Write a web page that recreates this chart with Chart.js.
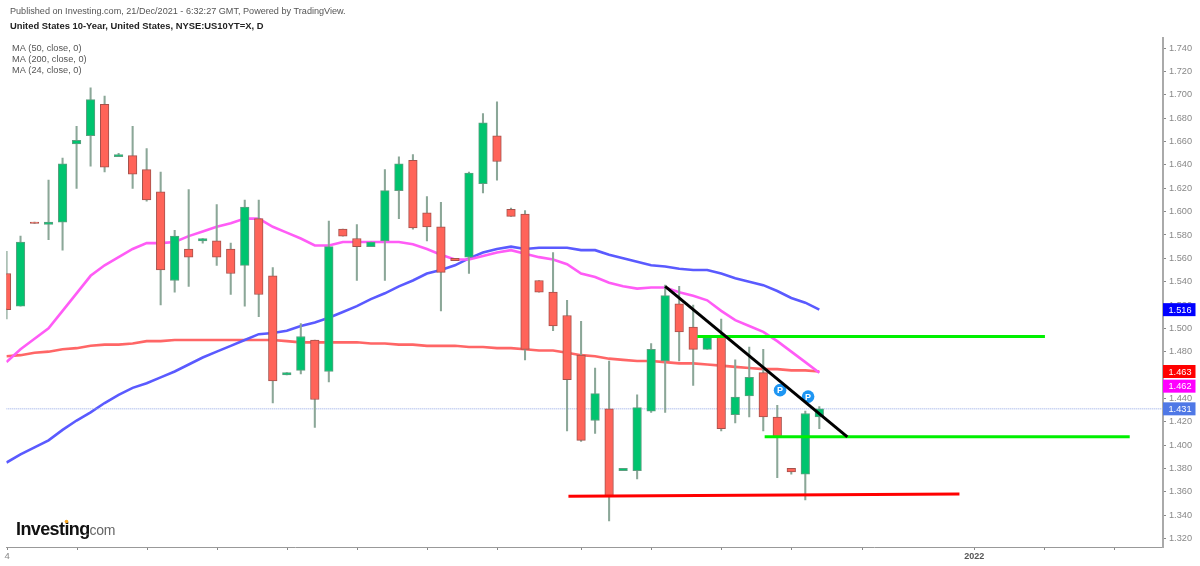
<!DOCTYPE html>
<html>
<head>
<meta charset="utf-8">
<title>United States 10-Year</title>
<script src="https://cdn.jsdelivr.net/npm/chart.js@4"></script>
<style>html,body{margin:0;padding:0;background:#fff}canvas{display:block}</style>
</head>
<body>
<canvas id="c" width="1200" height="566"></canvas>
<script>
const publishedLine = "Published on Investing.com, 21/Dec/2021 - 6:32:27 GMT, Powered by TradingView.";
const titleLine = "United States 10-Year, United States, NYSE:US10YT=X, D";
const maNames = ["MA (50, close, 0)", "MA (200, close, 0)", "MA (24, close, 0)"];

const opens  = [1.547,1.519,1.591,1.589,1.591,1.658,1.665,1.692,1.647,1.648,1.636,1.617,1.541,1.568,1.575,1.575,1.568,1.554,1.594,1.545,1.460,1.464,1.490,1.463,1.585,1.577,1.570,1.575,1.618,1.644,1.599,1.587,1.560,1.561,1.624,1.665,1.602,1.598,1.541,1.531,1.511,1.477,1.421,1.431,1.378,1.378,1.429,1.472,1.521,1.501,1.482,1.494,1.426,1.442,1.462,1.424,1.380,1.375,1.424];
const highs  = [1.566,1.579,1.591,1.627,1.646,1.673,1.706,1.699,1.650,1.673,1.654,1.634,1.584,1.619,1.577,1.606,1.573,1.610,1.610,1.552,1.462,1.504,1.490,1.592,1.585,1.589,1.574,1.636,1.647,1.649,1.613,1.608,1.560,1.634,1.684,1.694,1.603,1.601,1.541,1.565,1.524,1.506,1.466,1.472,1.380,1.443,1.487,1.537,1.536,1.520,1.492,1.508,1.473,1.484,1.482,1.434,1.380,1.429,1.433];
const lows   = [1.508,1.519,1.590,1.576,1.567,1.620,1.639,1.634,1.647,1.620,1.609,1.520,1.531,1.536,1.573,1.554,1.529,1.519,1.510,1.436,1.460,1.461,1.415,1.454,1.579,1.541,1.570,1.541,1.594,1.585,1.575,1.515,1.558,1.547,1.616,1.627,1.596,1.473,1.531,1.498,1.412,1.403,1.410,1.335,1.378,1.371,1.428,1.428,1.472,1.451,1.482,1.412,1.419,1.424,1.412,1.372,1.375,1.353,1.414];
const closes = [1.516,1.574,1.590,1.591,1.641,1.661,1.696,1.638,1.649,1.632,1.610,1.550,1.579,1.561,1.577,1.561,1.547,1.604,1.529,1.455,1.462,1.493,1.439,1.570,1.579,1.570,1.574,1.618,1.641,1.586,1.587,1.548,1.558,1.633,1.676,1.643,1.596,1.482,1.531,1.502,1.456,1.404,1.444,1.356,1.380,1.432,1.482,1.528,1.497,1.482,1.492,1.414,1.441,1.458,1.424,1.407,1.377,1.427,1.431];

const ma50  = [1.385,1.392,1.398,1.404,1.413,1.421,1.428,1.436,1.443,1.449,1.453,1.458,1.463,1.469,1.475,1.480,1.485,1.490,1.495,1.496,1.498,1.502,1.505,1.509,1.514,1.519,1.525,1.530,1.536,1.541,1.547,1.550,1.554,1.560,1.565,1.568,1.570,1.568,1.569,1.569,1.569,1.567,1.567,1.563,1.560,1.557,1.554,1.553,1.551,1.550,1.550,1.547,1.543,1.540,1.537,1.532,1.526,1.522,1.516];
const ma200 = [1.476,1.477,1.479,1.480,1.482,1.483,1.485,1.486,1.486,1.487,1.489,1.489,1.490,1.490,1.490,1.490,1.490,1.490,1.490,1.490,1.489,1.488,1.488,1.488,1.488,1.488,1.487,1.487,1.486,1.486,1.485,1.485,1.485,1.484,1.484,1.483,1.483,1.482,1.481,1.481,1.479,1.477,1.476,1.474,1.473,1.472,1.472,1.471,1.470,1.470,1.469,1.468,1.467,1.466,1.465,1.465,1.464,1.464,1.463];
const ma24  = [1.471,1.482,1.491,1.500,1.515,1.530,1.545,1.554,1.561,1.568,1.573,1.573,1.574,1.579,1.583,1.587,1.590,1.594,1.594,1.587,1.582,1.577,1.571,1.571,1.574,1.574,1.574,1.574,1.574,1.572,1.568,1.563,1.559,1.559,1.562,1.565,1.567,1.564,1.561,1.559,1.555,1.547,1.544,1.539,1.536,1.534,1.535,1.535,1.531,1.528,1.524,1.515,1.507,1.502,1.497,1.489,1.480,1.471,1.462];

const yTicks = [1.74,1.72,1.70,1.68,1.66,1.64,1.62,1.60,1.58,1.56,1.54,1.52,1.50,1.48,1.46,1.44,1.42,1.40,1.38,1.36,1.34,1.32];
const xTicks = [0,5,10,15,20,25,30,35,41,46,51,56,61,69,74,79];
const xTickNames = {0:"4",69:"2022"};

const blackLineX = [47,60],      blackLineY = [1.536,1.407];
const greenHighX = [49.3,74.1],  greenHighY = [1.493,1.493];
const greenLowX  = [54.1,80.15], greenLowY  = [1.407,1.407];
const redLineX   = [40.1,68],    redLineY   = [1.356,1.358];
const lastPrice  = 1.431;
const noteX = [55.2,57.2], noteY = [1.447,1.4415];

const tagValues = [1.516,1.463,1.462,1.431];
const tagColors = ["#0000ff","#ff0000","#ff00ff","#4f78e6"];
const tagOffsets = [0,0,13.5,0];

const GREEN="#00c46f", RED="#ff6459", GREEN_B="#5d9f80", RED_B="#a5524c", WICK="#8ba798";
const idx = opens.map((_,i)=>i);
const pts = (xs,ys)=>xs.map((x,i)=>({x,y:ys[i]}));
const ser = (vals,color,w)=>({type:"line",data:vals.map((y,i)=>({x:i,y})),borderColor:color,borderWidth:w,pointRadius:0,tension:0,order:4,fill:false});
const seg = (xs,ys,color)=>({type:"line",data:pts(xs,ys),borderColor:color,borderWidth:3,pointRadius:0,tension:0,order:0,fill:false});

const xMin=-0.015, xMax=82.525;

const overlay = {
  id:"overlay",
  afterDatasetsDraw(chart){
    const c=chart.ctx, y=chart.scales.y, x=chart.scales.x;
    c.save();
    c.textBaseline="middle"; c.textAlign="center"; c.fillStyle="#fff"; c.font="bold 9px 'Liberation Sans'";
    noteX.forEach((v,i)=>c.fillText("P",x.getPixelForValue(v),y.getPixelForValue(noteY[i])+0.5));
    c.restore();
  },
  afterDraw(chart){
    const c=chart.ctx, y=chart.scales.y, a=chart.chartArea;
    c.save();
    c.textBaseline="middle"; c.textAlign="left";
    c.font="9.1px 'Liberation Sans'"; c.fillStyle="#555";
    c.fillText(publishedLine,10,11.5);
    c.font="bold 9.4px 'Liberation Sans'"; c.fillStyle="#222";
    c.fillText(titleLine,10,26.5);
    c.font="9.2px 'Liberation Sans'"; c.fillStyle="#555";
    maNames.forEach((t,i)=>c.fillText(t,12,48+i*11));
    tagValues.forEach((v,i)=>{
      const py=y.getPixelForValue(v)+tagOffsets[i];
      c.fillStyle=tagColors[i]; c.fillRect(a.right,py-6.5,32.5,13);
      c.fillStyle="#fff"; c.font="9.2px 'Liberation Sans'"; c.textAlign="center";
      c.fillText(v.toFixed(3),a.right+17,py+0.5);
    });
    c.textAlign="left"; c.textBaseline="alphabetic";
    c.font="bold 18px 'Liberation Sans'"; c.fillStyle="#111"; c.letterSpacing="-0.6px";
    c.fillText("Investing",16,535);
    c.letterSpacing="-0.3px"; c.font="14px 'Liberation Sans'"; c.fillStyle="#666";
    c.fillText(".com",86,535);
    c.letterSpacing="0px";
    c.fillStyle="#f5a623"; c.beginPath(); c.arc(66.5,521.5,1.8,0,Math.PI*2); c.fill();
    c.restore();
  }
};

new Chart(document.getElementById("c"),{
  data:{datasets:[
    seg(blackLineX,blackLineY,"#000000"),
    seg(greenHighX,greenHighY,"#00f000"),
    seg(greenLowX,greenLowY,"#00f000"),
    seg(redLineX,redLineY,"#ff0000"),
    {type:"line",data:pts(noteX,noteY),showLine:false,pointRadius:6.3,pointHoverRadius:6.3,pointBackgroundColor:"#1e96f3",pointBorderWidth:0,order:0},
    {type:"bar",grouped:false,data:idx.map(i=>({x:i,y:[opens[i],closes[i]]})),barThickness:8.6,
     backgroundColor:idx.map(i=>closes[i]>=opens[i]?GREEN:RED),
     borderColor:idx.map(i=>closes[i]>=opens[i]?GREEN_B:RED_B),borderWidth:1,borderSkipped:false,order:1},
    {type:"bar",grouped:false,data:idx.map(i=>({x:i,y:[lows[i],highs[i]]})),barThickness:1.4,backgroundColor:WICK,borderWidth:0,order:2},
    ser(ma24,"#ff5cf6",2.6),
    ser(ma50,"#5a5aff",2.6),
    ser(ma200,"#ff6666",2.6),
    {type:"line",data:pts([xMin,xMax],[lastPrice,lastPrice]),borderColor:"#8ea4e6",borderWidth:1,borderDash:[1,1],pointRadius:0,order:3}
  ]},
  options:{
    responsive:false,animation:false,events:[],
    devicePixelRatio:1,
    layout:{padding:{left:5,top:38,right:0,bottom:0}},
    plugins:{legend:{display:false},title:{display:false},tooltip:{enabled:false}},
    scales:{
      x:{type:"linear",min:xMin,max:xMax,offset:false,
        afterBuildTicks(s){s.ticks=xTicks.map(v=>({value:v+0.05}));},
        afterFit(s){s.height=19;s.paddingLeft=0;s.paddingRight=0;},
        border:{color:"#999",width:1},
        grid:{offset:false,drawOnChartArea:false,tickLength:3,color:"#888",tickWidth:1},
        ticks:{autoSkip:false,maxRotation:0,minRotation:0,padding:1,
          callback:v=>xTickNames[Math.round(v-0.05)]||"",
          color:c=>c.tick&&Math.round(c.tick.value)===69?"#555":"#888",
          font:c=>c.tick&&Math.round(c.tick.value)===69?{family:"'Liberation Sans'",size:9,weight:"bold"}:{family:"'Liberation Sans'",size:9.5}}
      },
      y:{type:"linear",position:"right",min:1.3126,max:1.7488,
        afterBuildTicks(s){s.ticks=yTicks.map(v=>({value:v}));},
        afterFit(s){s.width=37;s.paddingTop=0;s.paddingBottom=0;},
        border:{color:"#aaa",width:2},
        grid:{drawOnChartArea:false,tickLength:3,color:"#888",tickWidth:1},
        ticks:{autoSkip:false,padding:3,color:"#888",align:"center",
          callback:v=>v.toFixed(3),font:{family:"'Liberation Sans'",size:9.2}}
      }
    }
  },
  plugins:[overlay]
});
</script>
</body>
</html>
